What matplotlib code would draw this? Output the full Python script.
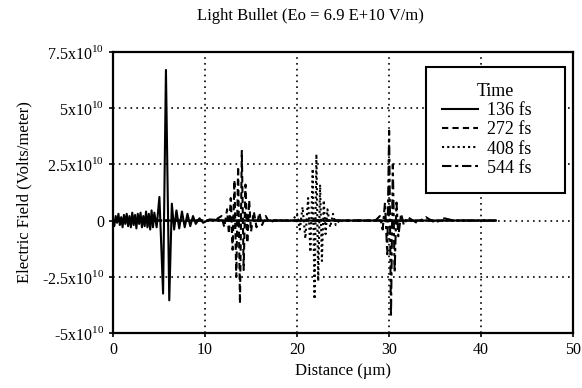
import matplotlib

matplotlib.use("Agg")
import matplotlib.pyplot as plt  # noqa: E402
from matplotlib.ticker import FuncFormatter  # noqa: E402

plt.rcParams["font.family"] = ["Liberation Serif", "DejaVu Serif"]
plt.rcParams["mathtext.fontset"] = "custom"
plt.rcParams["mathtext.rm"] = "Liberation Serif"
plt.rcParams["axes.unicode_minus"] = False

# campo elétrico em unidades de 1e10 V/m, distância em µm
x136 = [0, 0.15, 0.3, 0.45, 0.6, 0.75, 0.9, 1.05, 1.2, 1.35, 1.5, 1.65, 1.8, 1.95, 2.1, 2.25,
        2.4, 2.55, 2.7, 2.85, 3.0, 3.15, 3.3, 3.45, 3.6, 3.75, 3.9, 4.05, 4.2, 4.35, 4.5,
        4.75, 5.05, 5.45, 5.76, 6.12, 6.4, 6.65, 6.9, 7.2, 7.5, 7.8, 8.1, 8.4, 8.7,
        9.0, 9.4, 9.8, 10.5, 12, 20, 30, 41.6]
y136 = [0.1, -0.25, 0.2, -0.1, 0.3, -0.2, 0.15, -0.3, 0.25, -0.15, 0.3, -0.25, 0.2, -0.3, 0.35, -0.2,
        0.25, -0.35, 0.3, -0.15, 0.35, -0.3, 0.2, -0.25, 0.4, -0.3, 0.3, -0.4, 0.45, -0.3, 0.35,
        -0.3, 1.05, -3.25, 6.7, -3.55, 0.75, -0.4, 0.45, -0.35, 0.4, -0.3, 0.3, -0.25, 0.2,
        -0.15, 0.1, -0.1, 0.05, 0, 0, 0, 0]

x272 = [0, 11.0, 11.8, 12.1, 12.4, 12.6, 12.8, 13.0, 13.2, 13.4, 13.6, 13.8, 14.0, 14.2,
        14.4, 14.6, 14.8, 15.0, 15.3, 15.6, 15.9, 16.2, 16.6, 17.0, 17.5, 41.6]
y272 = [0, 0, 0.2, -0.3, 0.5, -0.6, 1.0, -1.3, 1.8, -2.5, 2.4, -3.7, 3.1, -2.2,
        1.6, -1.0, 0.9, -0.5, 0.4, -0.3, 0.35, -0.2, 0.2, -0.1, 0, 0]

x408 = [0, 19.5, 20.0, 20.3, 20.6, 20.9, 21.2, 21.45, 21.7, 21.9, 22.1, 22.3, 22.5, 22.7,
        22.9, 23.1, 23.3, 23.6, 23.9, 24.2, 24.6, 41.6]
y408 = [0, 0, 0.3, -0.4, 0.6, -0.8, 1.0, -1.4, 2.3, -3.5, 2.95, -2.7, 1.6, -1.8,
        0.9, -0.6, 0.5, -0.3, 0.3, -0.2, 0, 0]

x544 = [0, 28.5, 29.0, 29.3, 29.55, 29.8, 30.0, 30.2, 30.4, 30.6, 30.8, 31.0, 31.3, 31.6,
        32, 33, 34, 35, 36, 37, 41.6]
y544 = [0, 0, 0.2, -0.4, 0.8, -1.5, 4.0, -4.3, 2.5, -2.3, 0.8, -0.7, 0.3, -0.2,
        0.15, -0.1, 0.15, -0.1, 0.1, 0, 0]

SERIES = [
    ("136 fs", x136, y136, "-"),
    ("272 fs", x272, y272, (0, (3, 2))),
    ("408 fs", x408, y408, (0, (1, 1.5))),
    ("544 fs", x544, y544, (0, (4.5, 1.8, 1.5, 1.8))),
]

YTICKS = [-5, -2.5, 0, 2.5, 5, 7.5]
XTICKS = [0, 10, 20, 30, 40, 50]


def fmt_y(v, pos):
    if v == 0:
        return "0"
    return "%gx10$^{\\mathregular{10}}$" % v


fig = plt.figure(figsize=(5.82, 3.88), dpi=100)
ax = fig.add_axes([0.194, 0.142, 0.791, 0.724])

for label, xs, ys, ls in SERIES:
    ax.plot(xs, [v * 1e10 for v in ys], color="black", linestyle=ls, linewidth=1.5, label=label)

ax.set_xlim(0, 50)
ax.set_ylim(-5e10, 7.5e10)
ax.set_xticks(XTICKS)
ax.set_yticks([v * 1e10 for v in YTICKS])
ax.yaxis.set_major_formatter(FuncFormatter(lambda v, p: fmt_y(round(v / 1e10, 2), p)))
ax.tick_params(direction="out", length=3, width=1.2, labelsize=11.5, colors="black")

for v in [10, 20, 30, 40]:
    ax.axvline(v, color="black", linestyle=(0, (1, 2.5)), linewidth=1.2, zorder=0)
for v in [-2.5, 0, 2.5, 5]:
    ax.axhline(v * 1e10, color="black", linestyle=(0, (1, 2.5)), linewidth=1.2, zorder=0)

for s in ax.spines.values():
    s.set_linewidth(1.6)

ax.set_title("Light Bullet (Eo = 6.9 E+10 V/m)", fontsize=12, x=0.43, pad=23)
ax.set_xlabel("Distance (µm)", fontsize=12)
ax.set_ylabel("Electric Field (Volts/meter)", fontsize=12, labelpad=7)

leg = ax.legend(title="Time", loc="upper left", bbox_to_anchor=(0.680, 0.498, 0.302, 0.449),
                mode="expand", borderaxespad=0,
                fontsize=13, title_fontsize=13, frameon=True, fancybox=False,
                edgecolor="black", framealpha=1, labelspacing=0.12, handlelength=2.0,
                handletextpad=0.5, borderpad=0.9)
leg.get_frame().set_linewidth(1.5)

fig.savefig("out.png", dpi=100)
